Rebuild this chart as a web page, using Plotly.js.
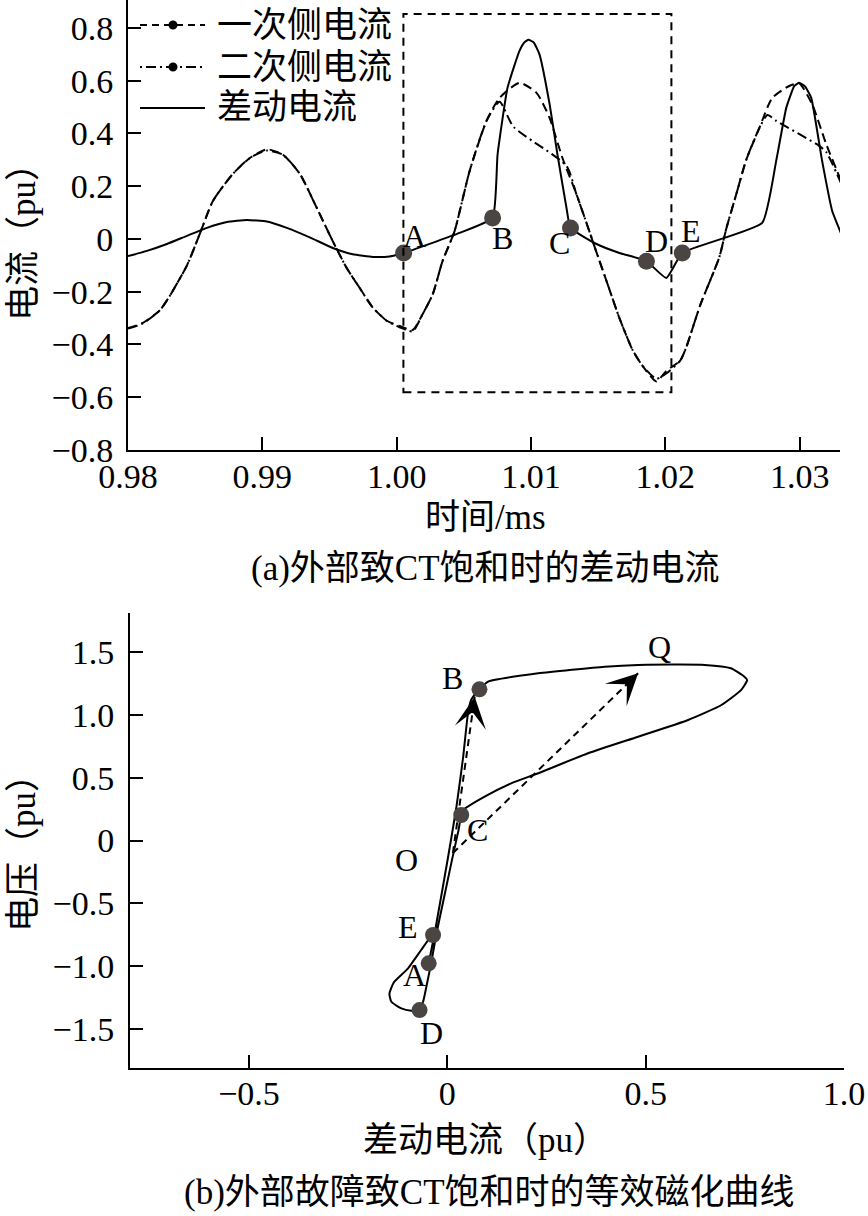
<!DOCTYPE html>
<html>
<head>
<meta charset="utf-8">
<script src="https://cdn.plot.ly/plotly-3.0.1.min.js"></script>
<style>html,body{margin:0;padding:0;background:#fff;}#chart{width:868px;height:1216px;}</style>
</head>
<body>
<div id="chart"></div>
<script>
// ---------- (a) currents vs time ----------
const primaryT = [0.98000,0.98111,0.98238,0.98312,0.98439,0.98535,0.98632,0.98781,0.98907,0.99033,0.99152,0.99279,0.99405,0.99524,0.99628,0.99725,0.99822,0.99926,1.00022,1.00119,1.00193,1.00268,1.00342,1.00431,1.00543,1.00669,1.00766,1.00914,1.01041,1.01138,1.01234,1.01338,1.01420,1.01487,1.01576,1.01658,1.01755,1.01829,1.01933,1.02007,1.02112,1.02156,1.02260,1.02401,1.02454,1.02528,1.02602,1.02699,1.02796,1.02922,1.02996,1.03093,1.03197,1.03309];
const primaryI = [-0.338,-0.318,-0.27,-0.215,-0.10,0.02,0.144,0.247,0.307,0.34,0.32,0.247,0.118,-0.008,-0.11,-0.186,-0.26,-0.31,-0.33,-0.345,-0.285,-0.21,-0.083,0.03,0.258,0.448,0.535,0.592,0.554,0.459,0.307,0.17,0.05,-0.05,-0.18,-0.30,-0.42,-0.48,-0.54,-0.50,-0.46,-0.41,-0.25,-0.07,0.04,0.17,0.30,0.42,0.535,0.58,0.59,0.51,0.36,0.22];

const secondaryT = [0.98000,0.98111,0.98238,0.98312,0.98439,0.98535,0.98632,0.98781,0.98907,0.99033,0.99152,0.99279,0.99405,0.99524,0.99628,0.99725,0.99822,0.99926,1.00022,1.00119,1.00193,1.00268,1.00342,1.00431,1.00543,1.00669,1.00766,1.00870,1.01264,1.01338,1.01420,1.01487,1.01576,1.01658,1.01755,1.01829,1.01933,1.02007,1.02112,1.02156,1.02260,1.02401,1.02454,1.02528,1.02602,1.02699,1.02760,1.02825,1.03145,1.03197,1.03309];
const secondaryI = [-0.34,-0.32,-0.27,-0.215,-0.10,0.02,0.144,0.247,0.307,0.335,0.32,0.247,0.118,-0.008,-0.11,-0.186,-0.26,-0.31,-0.335,-0.35,-0.285,-0.21,-0.083,0.03,0.258,0.448,0.52,0.425,0.277,0.17,0.05,-0.05,-0.18,-0.30,-0.42,-0.48,-0.53,-0.51,-0.46,-0.41,-0.25,-0.07,0.04,0.17,0.30,0.42,0.47,0.448,0.353,0.33,0.21];

const diffT = [0.98000,0.98141,0.98290,0.98439,0.98587,0.98736,0.98885,0.99033,0.99182,0.99353,0.99524,0.99673,0.99822,0.99948,1.00052,1.00468,1.00714,1.00751,1.00825,1.00914,1.00950,1.00981,1.01020,1.01063,1.01138,1.01197,1.01264,1.01294,1.01487,1.01658,1.01859,1.02007,1.02126,1.02721,1.02825,1.02900,1.02960,1.02996,1.03040,1.03086,1.03167,1.03242,1.03309];
const diffI = [-0.065,-0.045,-0.019,0.012,0.042,0.064,0.072,0.066,0.042,0.006,-0.034,-0.058,-0.068,-0.066,-0.053,0.023,0.080,0.32,0.573,0.713,0.745,0.755,0.745,0.70,0.512,0.32,0.118,0.042,-0.019,-0.053,-0.084,-0.148,-0.053,0.061,0.296,0.497,0.580,0.592,0.578,0.535,0.296,0.106,0.02];

const pointLabels = ['A','B','C','D','E'];
const topPtT = [1.00052,1.00714,1.01294,1.01859,1.02126];
const topPtI = [-0.053,0.080,0.042,-0.084,-0.053];
const boxT = [1.0005, 1.02045];
const boxI = [-0.581, 0.853];

const legendNames = ['一次侧电流','二次侧电流','差动电流'];
const xTicksA = [0.98,0.99,1.00,1.01,1.02,1.03,1.033];
const xTextA = ['0.98','0.99','1.00','1.01','1.02','1.03',''];
const yTicksA = [-0.8,-0.6,-0.4,-0.2,0,0.2,0.4,0.6,0.8];
const yTextA = ['−0.8','−0.6','−0.4','−0.2','0','0.2','0.4','0.6','0.8'];

// ---------- (b) magnetising curve ----------
const loopX = [-0.047,-0.032,0.002,0.023,0.040,0.052,0.060,0.081,0.103,0.229,0.397,0.481,0.649,0.715,0.749,0.756,0.741,0.691,0.607,0.481,0.355,0.229,0.161,0.094,0.040,0.035,0.028,0.012,-0.008,-0.028,-0.041,-0.052,-0.060,-0.070,-0.091,-0.116,-0.141,-0.146,-0.135,-0.099,-0.066,-0.045,-0.036];
const loopY = [-0.977,-0.738,-0.129,0.269,0.667,1.012,1.118,1.203,1.264,1.330,1.383,1.397,1.397,1.370,1.303,1.277,1.198,1.078,0.959,0.826,0.694,0.535,0.455,0.349,0.243,0.203,0.08,-0.15,-0.45,-0.75,-0.98,-1.15,-1.27,-1.349,-1.354,-1.336,-1.283,-1.22,-1.13,-1.017,-0.871,-0.778,-0.752];
const botPtX = [-0.047,0.081,0.035,-0.070,-0.036];
const botPtY = [-0.977,1.203,0.203,-1.349,-0.752];
const arrowStartX = [0.014,0.014];
const arrowStartY = [-0.10,-0.10];
const arrowEndX = [0.069,0.481];
const arrowEndY = [1.144,1.330];
const extraLabels = ['O','Q'];
const extraLabelX = [-0.103,0.535];
const extraLabelY = [-0.155,1.542];
const xTicksB = [-0.5,0,0.5,1.0];
const xTextB = ['−0.5','0','0.5','1.0'];
const yTicksB = [-1.5,-1.0,-0.5,0,0.5,1.0,1.5];
const yTextB = ['−1.5','−1.0','−0.5','0','0.5','1.0','1.5'];

const FONT = "Liberation Serif, Noto Sans CJK SC, serif";
const CJK = "Liberation Serif, Noto Sans CJK SC, serif";
const W = 868, H = 1216;
const ptColor = '#4a4542';
const DASH = '9px,5px';
const DASHDOT = '10px,4px,2px,4px';

const traces = [
  {x: primaryT, y: primaryI, xaxis:'x', yaxis:'y', mode:'lines', showlegend:false,
   line:{color:'#000', width:2, dash:DASH, shape:'spline', smoothing:0.6}},
  {x: secondaryT, y: secondaryI, xaxis:'x', yaxis:'y', mode:'lines', showlegend:false,
   line:{color:'#000', width:2, dash:DASHDOT, shape:'spline', smoothing:0.6}},
  {x: diffT, y: diffI, xaxis:'x', yaxis:'y', mode:'lines', showlegend:false,
   line:{color:'#000', width:2, shape:'spline', smoothing:0.4}},
  {x: topPtT, y: topPtI, xaxis:'x', yaxis:'y', mode:'markers', showlegend:false,
   marker:{color:ptColor, size:17}},
  {x: loopX, y: loopY, xaxis:'x2', yaxis:'y2', mode:'lines', showlegend:false,
   line:{color:'#000', width:2, shape:'spline', smoothing:0.5}},
];
for (let i = 0; i < arrowStartX.length; i++) {
  traces.push({x:[arrowStartX[i], arrowEndX[i]], y:[arrowStartY[i], arrowEndY[i]],
    xaxis:'x2', yaxis:'y2', mode:'lines', showlegend:false,
    line:{color:'#000', width:2, dash:'7px,5px'}});
}
traces.push({x: botPtX, y: botPtY, xaxis:'x2', yaxis:'y2', mode:'markers', showlegend:false,
  marker:{color:ptColor, size:16}});

const annotations = [];
const shapes = [{type:'rect', xref:'x', yref:'y', x0:boxT[0], x1:boxT[1], y0:boxI[0], y1:boxI[1],
    line:{color:'#000', width:2, dash:'8px,6px'}}];

// hand-placed legend (glyphs in paper coordinates)
const legRowY = [25, 67, 108];
const legDash = ['7px,5px', '2px,4px,10px,4px', 'solid'];
const legDot = [true, true, false];
legendNames.forEach((name, i) => {
  const yy = 1 - legRowY[i]/H;
  shapes.push({type:'line', xref:'paper', yref:'paper', x0:140/W, x1:205/W, y0:yy, y1:yy,
    line:{color:'#000', width:2, dash:legDash[i]}});
  if (legDot[i]) {
    shapes.push({type:'circle', xref:'paper', yref:'paper', x0:168.5/W, x1:177.5/W,
      y0:1-(legRowY[i]+4.5)/H, y1:1-(legRowY[i]-4.5)/H, fillcolor:'#000', line:{color:'#000', width:0}});
  }
  annotations.push({xref:'paper', yref:'paper', x:215/W, y:yy, xanchor:'left', yanchor:'middle',
    text:name, showarrow:false, font:{family:CJK, size:35, color:'#000'}});
});

const topShift = [[11,17],[10,-20],[-11,-15],[10,20],[9,22]];
const botShift = [[-14,-12],[-27,11],[16,-15],[12,-23],[-25,8]];
pointLabels.forEach((lab, i) => {
  annotations.push({xref:'x', yref:'y', x: topPtT[i], y: topPtI[i], text: lab, showarrow:false,
    xshift: topShift[i][0], yshift: topShift[i][1], font:{family:FONT, size:32, color:'#000'}});
  annotations.push({xref:'x2', yref:'y2', x: botPtX[i], y: botPtY[i], text: lab, showarrow:false,
    xshift: botShift[i][0], yshift: botShift[i][1], font:{family:FONT, size:32, color:'#000'}});
});
extraLabels.forEach((lab, i) => {
  annotations.push({xref:'x2', yref:'y2', x: extraLabelX[i], y: extraLabelY[i], text: lab, showarrow:false,
    font:{family:FONT, size:32, color:'#000'}});
});
for (let i = 0; i < arrowStartX.length; i++) {
  const f = 0.07;
  annotations.push({xref:'x2', yref:'y2', axref:'x2', ayref:'y2',
    x: arrowEndX[i], y: arrowEndY[i],
    ax: arrowEndX[i] - (arrowEndX[i]-arrowStartX[i])*f,
    ay: arrowEndY[i] - (arrowEndY[i]-arrowStartY[i])*f,
    text:'', showarrow:true, arrowhead:3, arrowsize:2.6, arrowwidth:2, arrowcolor:'#000'});
}
function paperText(text, px, py, angle) {
  return {xref:'paper', yref:'paper', x: px/W, y: 1 - py/H, text, showarrow:false,
    textangle: angle || 0, xanchor:'center', yanchor:'middle',
    font:{family:CJK, size:35, color:'#000'}};
}
annotations.push(paperText('时间/ms', 485, 517));
annotations.push(paperText('(a)外部致CT饱和时的差动电流', 486, 568));
annotations.push(paperText('电流（pu）', 23, 234, -90));
annotations.push(paperText('电压（pu）', 23, 845, -90));
annotations.push(paperText('差动电流（pu）', 485, 1140));
annotations.push(paperText('(b)外部故障致CT饱和时的等效磁化曲线', 489, 1192));

const axisCommon = {showline:true, linecolor:'#000', linewidth:2, ticks:'inside', ticklen:13,
  tickwidth:2, tickcolor:'#000', showgrid:false, zeroline:false, fixedrange:true,
  tickfont:{family:FONT, size:34, color:'#000'}, tickmode:'array'};

const layout = {
  width: W, height: H, margin:{l:0, r:0, t:0, b:0},
  font:{family:FONT, color:'#000'},
  paper_bgcolor:'#fff', plot_bgcolor:'rgba(0,0,0,0)',
  showlegend:false,
  xaxis: Object.assign({}, axisCommon, {domain:[128/W, 840/W], range:[0.98, 1.033], anchor:'y',
    tickvals:xTicksA, ticktext:xTextA, ticklabelstandoff:-5}),
  yaxis: Object.assign({}, axisCommon, {domain:[1-450/H, 1], range:[-0.8, 0.906], anchor:'x',
    tickvals:yTicksA, ticktext:yTextA, ticklabelstandoff:6}),
  xaxis2: Object.assign({}, axisCommon, {domain:[130/W, 844/W], range:[-0.8, 1.0], anchor:'y2',
    tickvals:xTicksB, ticktext:xTextB, ticklabelstandoff:-6}),
  yaxis2: Object.assign({}, axisCommon, {domain:[1-1068/H, 1-613/H], range:[-1.81, 1.81], anchor:'x2',
    tickvals:yTicksB, ticktext:yTextB, ticklabelstandoff:7}),
  shapes,
  annotations
};

Plotly.newPlot('chart', traces, layout, {staticPlot:true, displayModeBar:false});
</script>
</body>
</html>
